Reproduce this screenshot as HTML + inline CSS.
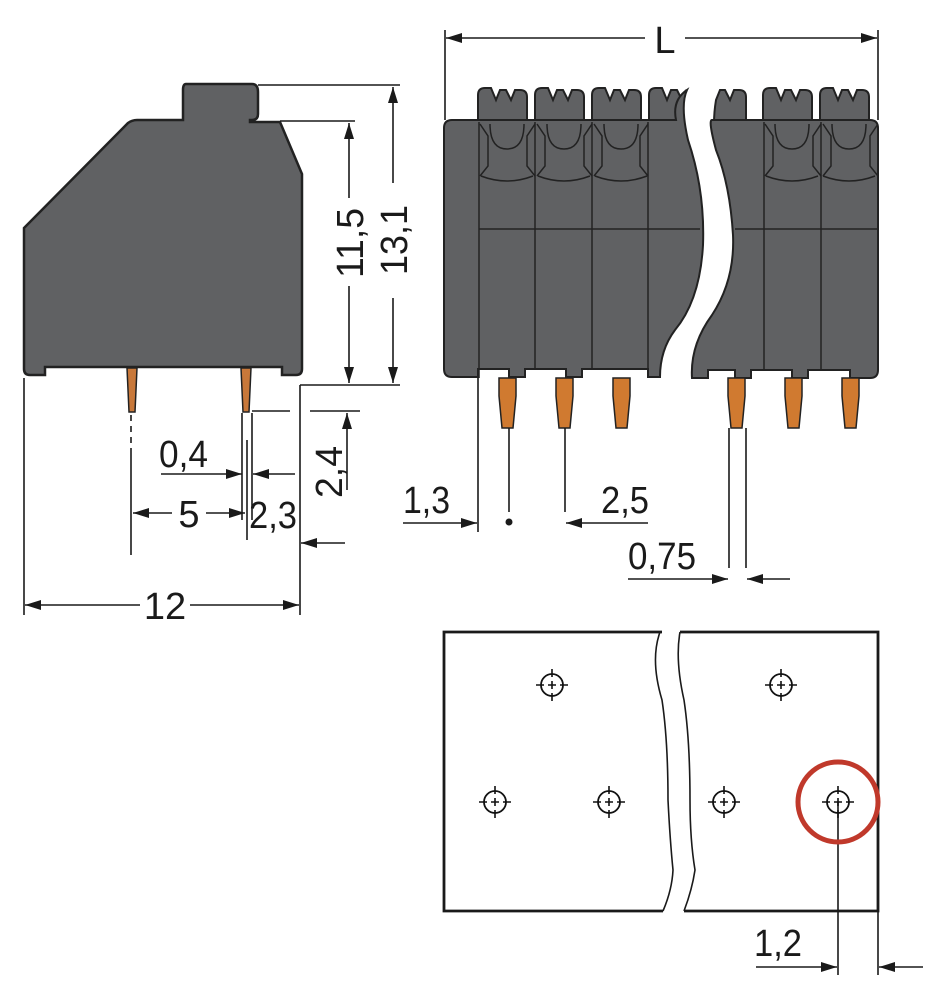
<!DOCTYPE html>
<html><head><meta charset="utf-8"><style>
html,body{margin:0;padding:0;background:#fff}
svg{display:block}
text{font-family:"Liberation Sans",sans-serif;font-size:38px;fill:#1a1a1a}
</style></head><body>
<svg width="946" height="1000" viewBox="0 0 946 1000" xmlns="http://www.w3.org/2000/svg">
<defs>
<marker id="a" viewBox="0 0 16 10" refX="16" refY="5" markerWidth="16" markerHeight="10" markerUnits="userSpaceOnUse" orient="auto-start-reverse"><path d="M0,0L16,5L0,10z" fill="#1a1a1a"/></marker>
<g id="hole"><circle r="11" fill="none" stroke="#111" stroke-width="1.8"/><path d="M-16,0h8M8,0h8M0,-16v8M0,8v8M-4,0h8M0,-4v8" stroke="#111" stroke-width="1.6"/></g>
</defs>
<g stroke="#1a1a1a" stroke-width="1.6" fill="none">
<path d="M186,84h66q6,0 6,8v22q0,6-6,6h-2v2h30l22,52v195q0,6-6,6h-14v-8H45v8H30q-6,0-6-6V228l104-105q4-3 9-3h46V90q0-6 3-6z" fill="#606163" stroke="#222" stroke-width="2.5"/>
<path d="M127,368h10l-2,44h-6z" fill="#c8783a" stroke="#222" stroke-width="1.5"/>
<path d="M241,368h10l-2,44h-6z" fill="#c8783a" stroke="#222" stroke-width="1.5"/>
<path d="M258,85H400M280,121H355M300,385H400M300,385V615M24,378V615M131,448V555"/>
<path d="M131,415V448" stroke-dasharray="6,5"/>
<line x1="393" y1="183" x2="393" y2="87" marker-end="url(#a)"/>
<line x1="393" y1="298" x2="393" y2="383" marker-end="url(#a)"/>
<line x1="349" y1="198" x2="349" y2="123" marker-end="url(#a)"/>
<line x1="349" y1="286" x2="349" y2="383" marker-end="url(#a)"/>
<path d="M252,411H290M310,411H360"/>
<line x1="347" y1="490" x2="347" y2="413" marker-end="url(#a)"/>
<path d="M242,413V520M247,440V540M252,413V520"/>
<line x1="161" y1="474" x2="242" y2="474" marker-end="url(#a)"/>
<line x1="295" y1="474" x2="253" y2="474" marker-end="url(#a)"/>
<line x1="172" y1="513" x2="133" y2="513" marker-end="url(#a)"/>
<line x1="206" y1="513" x2="245" y2="513" marker-end="url(#a)"/>
<line x1="345" y1="543" x2="301" y2="543" marker-end="url(#a)"/>
<line x1="140" y1="605" x2="25" y2="605" marker-end="url(#a)"/>
<line x1="190" y1="605" x2="299" y2="605" marker-end="url(#a)"/>
<path d="M445,30V120M878,30V120"/>
<line x1="645" y1="38" x2="446" y2="38" marker-end="url(#a)"/>
<line x1="685" y1="38" x2="877" y2="38" marker-end="url(#a)"/>
</g>
<g stroke="#222" stroke-width="2" fill="#606163">
<path d="M478,122V95q0-7 7-7h6l5,12l4,-10h6l5,10l4-10h5q7,0 7,7v27"/>
<path d="M535,122V95q0-7 7-7h6l5,12l4,-10h6l5,10l4-10h5q7,0 7,7v27"/>
<path d="M592,122V95q0-7 7-7h6l5,12l4,-10h6l5,10l4-10h5q7,0 7,7v27"/>
<path d="M763,122V95q0-7 7-7h6l5,12l4,-10h6l5,10l4-10h5q7,0 7,7v27"/>
<path d="M820,122V95q0-7 7-7h6l5,12l4,-10h6l5,10l4-10h5q7,0 7,7v27"/>
<path d="M649,122V95q0-7 7-7h6l5,12l4,-10h6l5,10l4-10 Q680,100 676,122z"/>
<path d="M716,100l4,-10h5l5,10l4-10h5q7,0 7,7v27h-32q0,-12 2,-24z"/>
<path d="M452,120H676Q672,100 687,90 Q680,105 688,140 Q705,190 703,245 Q700,300 675,330 Q660,350 660,377H648v-8H582v8h-16v-8H525v8h-16v-8H478v8H452q-8,0-8-8V128q0-8 8-8z"/>
<path d="M712,120H870q8,0 8,8V370q0,8-8,8H850v-8H808v8h-16v-8H751v8h-16v-8H708v8H692Q690,345 712,315 Q735,280 733,235 Q730,185 716,150 Q708,120 712,120z"/>
</g>
<g stroke="#222" stroke-width="1.5" fill="none">
<path d="M479,122V378M535,122V370M592,122V370M648,122V370M764,122V370M821,122V370M479,229H700M735,229H878"/>
<path d="M480,124l8,12v30l-8,10M535,124l-8,12v30l8,10M537,124l8,12v30l-8,10M592,124l-8,12v30l8,10M594,124l8,12v30l-8,10M648,124l-8,12v30l8,10M765,124l8,12v30l-8,10M821,124l-8,12v30l8,10M823,124l8,12v30l-8,10M878,124l-8,12v30l8,10"/>
<path d="M481,176q26,10 52,0 M490,124q0,25 17,25q17,0 17,-25"/>
<path d="M538,176q26,10 52,0 M547,124q0,25 17,25q17,0 17,-25"/>
<path d="M595,176q26,10 52,0 M604,124q0,25 17,25q17,0 17,-25"/>
<path d="M766,176q26,10 52,0 M775,124q0,25 17,25q17,0 17,-25"/>
<path d="M823,176q26,10 52,0 M832,124q0,25 17,25q17,0 17,-25"/>
</g>
<g fill="#d07a30" stroke="#222" stroke-width="1.5">
<path d="M499,378h17v18l-3,32h-11l-3,-32z"/>
<path d="M556,378h17v18l-3,32h-11l-3,-32z"/>
<path d="M613,378h17v18l-3,32h-11l-3,-32z"/>
<path d="M728,378h17v18l-3,32h-11l-3,-32z"/>
<path d="M785,378h17v18l-3,32h-11l-3,-32z"/>
<path d="M842,378h17v18l-3,32h-11l-3,-32z"/>
</g>
<g stroke="#1a1a1a" stroke-width="1.6" fill="none">
<path d="M478,378V532M509,428V512M565,428V512M729,428V568M746,428V568"/>
<line x1="403" y1="523" x2="477" y2="523" marker-end="url(#a)"/>
<line x1="648" y1="523" x2="566" y2="523" marker-end="url(#a)"/>
<line x1="628" y1="579" x2="728" y2="579" marker-end="url(#a)"/>
<line x1="790" y1="579" x2="747" y2="579" marker-end="url(#a)"/>
<path d="M662,632H444V911H663M680,632H878V911H684" stroke-width="2.8"/>
<path d="M663,911Q672,890 673,870Q670,840 668,800Q668,740 662,700Q650,660 660,632M684,911Q692,890 695,870Q690,840 690,800Q690,740 684,700Q675,660 680,632" stroke-width="1.6"/>
<path d="M838,802V975M878,911V975"/>
<line x1="756" y1="967" x2="837" y2="967" marker-end="url(#a)"/>
<line x1="923" y1="967" x2="879" y2="967" marker-end="url(#a)"/>
</g>
<circle cx="509" cy="522" r="3.5" fill="#1a1a1a"/>
<use href="#hole" x="552" y="685"/><use href="#hole" x="781" y="685"/>
<use href="#hole" x="495" y="802"/><use href="#hole" x="609" y="802"/>
<use href="#hole" x="724" y="802"/><use href="#hole" x="838" y="802"/>
<circle cx="838" cy="802" r="40" fill="none" stroke="#c0392b" stroke-width="5"/>
<text x="665" y="53" text-anchor="middle">L</text>
<text transform="translate(363,243) rotate(-90)" text-anchor="middle" textLength="70" lengthAdjust="spacingAndGlyphs">11,5</text>
<text transform="translate(407,240) rotate(-90)" text-anchor="middle" textLength="70" lengthAdjust="spacingAndGlyphs">13,1</text>
<text transform="translate(342,472) rotate(-90)" text-anchor="middle" textLength="52" lengthAdjust="spacingAndGlyphs">2,4</text>
<text x="159" y="467" textLength="49" lengthAdjust="spacingAndGlyphs">0,4</text>
<text x="189" y="527" text-anchor="middle">5</text>
<text x="249" y="528" textLength="48" lengthAdjust="spacingAndGlyphs">2,3</text>
<text x="165" y="619" text-anchor="middle">12</text>
<text x="403" y="513" textLength="47" lengthAdjust="spacingAndGlyphs">1,3</text>
<text x="601" y="513" textLength="48" lengthAdjust="spacingAndGlyphs">2,5</text>
<text x="628" y="569" textLength="68" lengthAdjust="spacingAndGlyphs">0,75</text>
<text x="754" y="956" textLength="48" lengthAdjust="spacingAndGlyphs">1,2</text>
</svg>
</body></html>
